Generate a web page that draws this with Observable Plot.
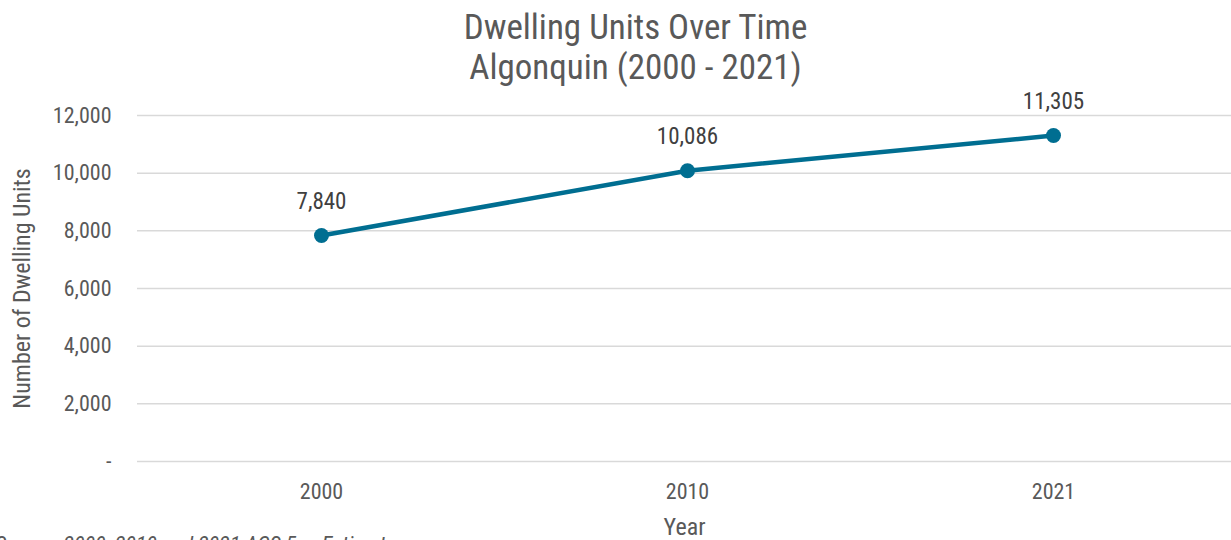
<!DOCTYPE html>
<html><head><meta charset="utf-8">
<script src="https://cdn.jsdelivr.net/npm/d3@7"></script>
<script src="https://cdn.jsdelivr.net/npm/@observablehq/plot@0.6"></script>
<style>
html,body{margin:0;padding:0;background:#fff;width:1231px;height:540px;overflow:hidden;position:relative;
 font-family:"Liberation Sans Narrow","Roboto Condensed","Arial Narrow","Liberation Sans",sans-serif;color:#595959;}
#title{position:absolute;left:0;top:8px;width:1271px;text-align:center;font-size:35px;line-height:40px;color:#595959;z-index:2;}
#chart{position:absolute;left:0;top:60px;z-index:1;}
#caption{position:absolute;left:-5px;top:532px;font-size:22px;font-style:italic;color:#595959;white-space:nowrap;}
</style></head>
<body>
<div id="title">Dwelling Units Over Time<br>Algonquin (2000 - 2021)</div>
<div id="chart"></div>
<div id="caption">Source: 2000, 2010 and 2021 ACS 5-yr Estimates</div>
<script>
const years = ["2000", "2010", "2021"];
const units = [7840, 10086, 11305];
const yTicks = [0, 2000, 4000, 6000, 8000, 10000, 12000];

const data = years.map((y, i) => ({year: y, units: units[i]}));
const color = "#006E91";
const fmt = d3.format(",");

const plot = Plot.plot({
  width: 1231,
  height: 480,
  marginTop: 55,
  marginBottom: 79,
  marginLeft: 137,
  marginRight: 0,
  style: {fontFamily: '"Liberation Sans Narrow","Roboto Condensed","Liberation Sans",sans-serif', fontSize: "22px", color: "#595959", background: "transparent"},
  x: {type: "point", domain: years, padding: 0.5, range: [137, 1236], label: null},
  y: {domain: [0, 12000], label: null},
  marks: [
    Plot.ruleY(yTicks, {stroke: "#d9d9d9", strokeWidth: 1.5}),
    Plot.axisY({ticks: yTicks, tickSize: 0, tickPadding: 26, tickFormat: d => d === 0 ? "-" : fmt(d), fontSize: 22, fill: "#595959", label: null}),
    Plot.text(["Number of Dwelling Units"], {frameAnchor: "left", textAnchor: "middle", dx: -115, rotate: -90, fontSize: 24, fill: "#595959"}),
    Plot.axisX({tickSize: 0, tickPadding: 22, fontSize: 22, fill: "#595959", label: null}),
    Plot.text(["Year"], {frameAnchor: "bottom", dy: 73, fontSize: 24, fill: "#595959"}),
    Plot.line(data, {x: "year", y: "units", stroke: color, strokeWidth: 4.5}),
    Plot.dot(data, {x: "year", y: "units", fill: color, r: 7.5}),
    Plot.text(data, {x: "year", y: "units", text: d => fmt(d.units), dy: -34, fontSize: 23, fill: "#404040"})
  ]
});
document.getElementById("chart").appendChild(plot);
</script>
</body></html>
